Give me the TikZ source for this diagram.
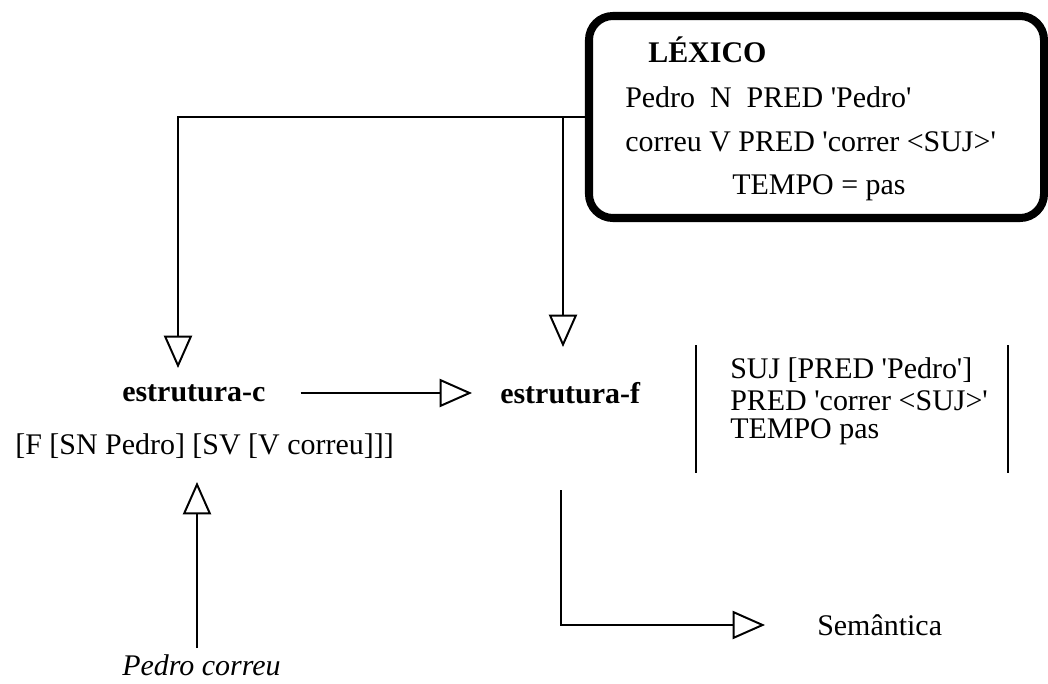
\documentclass[tikz,border=0pt]{standalone}
\usepackage{fontspec}
\setmainfont{Liberation Serif}
\usetikzlibrary{arrows.meta}
\newcommand{\q}{\textquotesingle}

\begin{document}
\begin{tikzpicture}[x=0.025cm, y=-0.025cm]

\tikzset{txt/.style = {inner sep=0pt, anchor=west, font=\fontsize{21.3}{25}\selectfont}}
\tikzset{edge/.style = {line width=1.4pt, -{Triangle[open, length=23pt, width=20pt, line width=1.4pt]}}}
\tikzset{bar/.style = {line width=2pt}}
\useasboundingbox (0,0) rectangle (1048,684);
%lexicon
\node[draw, line width=5.7pt, rounded corners=17pt, minimum width=455*0.025cm, minimum height=202*0.025cm, inner sep=0pt] (lexico) at (816.5,117) {};
\node[txt, font=\fontsize{21.3}{25}\selectfont\bfseries] (lextitle) at (648,50) {LÉXICO};
\node[txt] (lex1) at (625,97) {Pedro\ \ N\ \ PRED \q Pedro\q};
\node[txt] (lex2) at (625,142) {correu V PRED \q correr <SUJ>\q};
\node[txt] (lex3) at (732,188) {TEMPO = pas};
%structures
\node[txt, font=\fontsize{21.3}{25}\selectfont\bfseries] (estc) at (122,393) {estrutura-c};
\node[txt, font=\fontsize{21.3}{25}\selectfont\bfseries] (estf) at (500,393) {estrutura-f};
\node[txt] (tree) at (15,446) {[F [SN Pedro] [SV [V correu]]]};
\node[txt, font=\fontsize{21.3}{25}\selectfont\itshape] (input) at (122,665) {Pedro correu};
\node[txt] (f1) at (730,370) {SUJ [PRED \q Pedro\q]};
\node[txt] (f2) at (730,401) {PRED \q correr <SUJ>\q};
\node[txt] (f3) at (730,432) {TEMPO pas};
\node[txt] (sem) at (817,625) {Semântica};
%coordinates
\coordinate (cin) at (178,368);
\coordinate (fin) at (563,347);
\coordinate (cup) at (197,482);
\coordinate (sout) at (561,490);
\coordinate (semin) at (765,625);
%edges
\draw[edge] (lexico.west) -| (cin);
\draw[edge] (lexico.west -| fin) -- (fin);
\draw[edge, shorten <=35*0.025cm, shorten >=28*0.025cm] (estc.east) -- (estf.west);
\draw[edge] (197,648) -- (cup);
\draw[edge] (sout) |- (semin);
%brackets
\draw[bar] (696,345) -- (696,473);
\draw[bar] (1008,345) -- (1008,473);

\end{tikzpicture}
\end{document}
